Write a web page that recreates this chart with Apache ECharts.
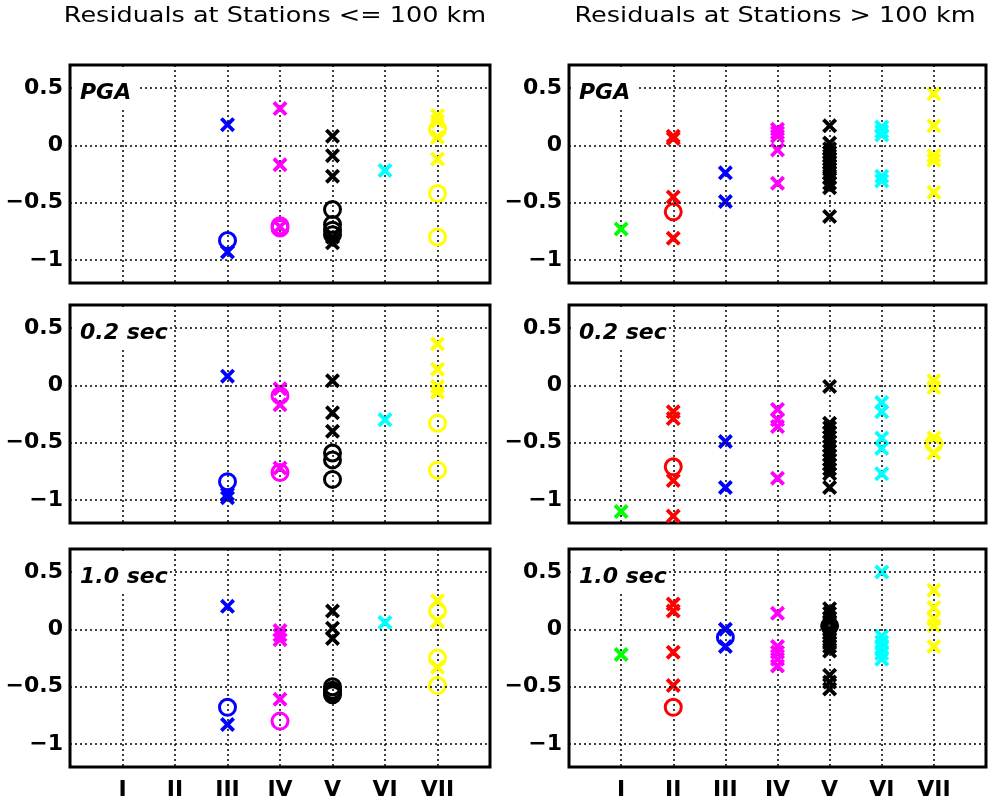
<!DOCTYPE html>
<html>
<head>
<meta charset="utf-8">
<script src="https://cdn.jsdelivr.net/npm/echarts@6/dist/echarts.min.js"></script>
<style>
  html, body { margin: 0; padding: 0; background: #fff; }
  #chart { width: 988px; height: 805px; }
</style>
</head>
<body>
<div id="chart"></div>
<script>
// site classes and the colour used for each one
const classes = ['I', 'II', 'III', 'IV', 'V', 'VI', 'VII'];
const classColors = ['#00ff00', '#ff0000', '#0000ff', '#ff00ff', '#000000', '#00ffff', '#ffff00'];
const yTicks = [-1, -0.5, 0, 0.5];

// residuals, one list per class I..VII (x = cross marker, o = circle marker)
// stations <= 100 km
const nearPgaX = [[], [], [0.18, -0.93], [0.32, -0.17, -0.71], [0.08, -0.09, -0.27, -0.80, -0.85], [-0.22], [0.26, 0.21, 0.07, -0.12]];
const nearPgaO = [[], [], [-0.83], [-0.70, -0.72], [-0.56, -0.69, -0.74, -0.78], [], [0.14, -0.42, -0.80]];
const near02X = [[], [], [0.08, -0.95, -0.98], [-0.03, -0.17, -0.72], [0.04, -0.24, -0.40], [-0.30], [0.36, 0.14, -0.01, -0.06]];
const near02O = [[], [], [-0.84], [-0.09, -0.76], [-0.59, -0.65, -0.82], [], [-0.33, -0.74]];
const near10X = [[], [], [0.20, -0.83], [-0.01, -0.05, -0.09, -0.61], [0.16, 0.01, -0.08], [0.06], [0.25, 0.07, -0.33]];
const near10O = [[], [], [-0.68], [-0.80], [-0.50, -0.53, -0.55, -0.57], [], [0.16, -0.25, -0.49]];

// stations > 100 km
const farPgaX = [[-0.73], [0.08, 0.06, -0.45, -0.81], [-0.24, -0.49], [0.14, 0.11, 0.08, -0.04, -0.33],
  [0.17, 0.02, -0.03, -0.06, -0.09, -0.12, -0.15, -0.18, -0.21, -0.24, -0.28, -0.33, -0.37, -0.62],
  [0.16, 0.12, 0.09, -0.27, -0.31], [0.45, 0.17, -0.09, -0.13, -0.41]];
const farPgaO = [[], [-0.58], [], [], [], [], []];
const far02X = [[-1.10], [-0.23, -0.29, -0.83, -1.14], [-0.49, -0.89], [-0.21, -0.30, -0.36, -0.81],
  [-0.01, -0.33, -0.37, -0.41, -0.45, -0.49, -0.53, -0.57, -0.61, -0.65, -0.69, -0.73, -0.77, -0.89],
  [-0.15, -0.23, -0.46, -0.55, -0.77], [0.04, -0.02, -0.46, -0.59]];
const far02O = [[], [-0.71], [], [], [], [], [-0.51]];
const far10X = [[-0.22], [0.22, 0.16, -0.20, -0.49], [0.00, -0.15], [0.14, -0.15, -0.20, -0.26, -0.32],
  [0.18, 0.14, 0.10, 0.07, 0.00, -0.03, -0.06, -0.09, -0.12, -0.15, -0.19, -0.40, -0.46, -0.52],
  [0.50, -0.06, -0.11, -0.16, -0.21, -0.26], [0.34, 0.19, 0.09, 0.03, -0.15]];
const far10O = [[], [-0.68], [-0.07], [], [0.03], [], []];

const titles = ['Residuals at Stations <= 100 km', 'Residuals at Stations > 100 km'];

const panels = [
    { label: 'PGA',     x: nearPgaX, o: nearPgaO, col: 0, row: 0 },
    { label: 'PGA',     x: farPgaX,  o: farPgaO,  col: 1, row: 0 },
    { label: '0.2 sec', x: near02X,  o: near02O,  col: 0, row: 1 },
    { label: '0.2 sec', x: far02X,   o: far02O,   col: 1, row: 1 },
    { label: '1.0 sec', x: near10X,  o: near10O,  col: 0, row: 2 },
    { label: '1.0 sec', x: far10X,   o: far10O,   col: 1, row: 2 }
];

const colLeft = [70, 569];
const colWidth = [420, 417];
const rowTop = [65, 305, 549];
const plotH = 218;
const FONT = 'DejaVu Sans';
const CROSS = 'path://M0,1.8L1.8,0L5,3.2L8.2,0L10,1.8L6.8,5L10,8.2L8.2,10L5,6.8L1.8,10L0,8.2L3.2,5Z';
const dotted = { type: [2, 3], color: '#000', width: 1.5 };

function fmtY(v) {
    return v < 0 ? '\u2212' + Math.abs(v) : String(v);
}

function crossData(lists) {
    const out = [];
    lists.forEach((vals, k) => vals.forEach(v => out.push({
        value: [k + 1, v],
        itemStyle: { color: classColors[k] }
    })));
    return out;
}

function circleData(lists) {
    const out = [];
    lists.forEach((vals, k) => vals.forEach(v => out.push({
        value: [k + 1, v],
        itemStyle: { color: 'rgba(0,0,0,0)', borderColor: classColors[k], borderWidth: 3 }
    })));
    return out;
}

const grid = [], xAxis = [], yAxis = [], series = [], graphic = [];

panels.forEach((p, i) => {
    const left = colLeft[p.col];
    const top = rowTop[p.row];
    grid.push({
        left: left, top: top, width: colWidth[p.col], height: plotH,
        show: true, borderColor: '#000', borderWidth: 3, backgroundColor: '#fff',
        containLabel: false, outerBoundsMode: 'none'
    });
    xAxis.push({
        gridIndex: i, type: 'value', min: 0, max: 8, interval: 1,
        axisLine: { show: false }, axisTick: { show: false },
        splitLine: { show: true, lineStyle: dotted },
        axisLabel: {
            show: p.row === 2, margin: 12, color: '#000',
            fontFamily: FONT, fontWeight: 'bold', fontSize: 22,
            formatter: v => classes[v - 1] || ''
        }
    });
    yAxis.push({
        gridIndex: i, type: 'value', min: -1.2, max: 0.7,
        axisLine: { show: false }, axisTick: { show: false },
        splitLine: { show: false },
        axisLabel: {
            customValues: yTicks, margin: 7, color: '#000',
            fontFamily: FONT, fontWeight: 'bold', fontSize: 22,
            formatter: fmtY
        }
    });
    // horizontal dotted grid lines
    series.push({
        type: 'scatter', xAxisIndex: i, yAxisIndex: i, data: [], z: 1, silent: true,
        markLine: {
            silent: true, symbol: 'none', label: { show: false },
            lineStyle: dotted, animation: false,
            data: yTicks.map(v => ({ yAxis: v }))
        }
    });
    series.push({
        type: 'scatter', xAxisIndex: i, yAxisIndex: i, z: 3,
        symbol: 'circle', symbolSize: 16,
        itemStyle: { opacity: 1 },
        data: circleData(p.o)
    });
    series.push({
        type: 'scatter', xAxisIndex: i, yAxisIndex: i, z: 4,
        symbol: CROSS, symbolSize: 15,
        itemStyle: { opacity: 1 },
        data: crossData(p.x)
    });

    // white box behind the panel label, hiding the grid lines
    graphic.push({
        type: 'rect', z: 100,
        shape: { x: left + 2, y: top + 2, width: p.label === 'PGA' ? 68 : 98, height: 41 },
        style: { fill: '#fff' }
    });
    graphic.push({
        type: 'text', z: 101, x: left + 10, y: top + 28,
        style: {
            text: p.label, fill: '#000',
            font: 'italic bold 22px "' + FONT + '"',
            textAlign: 'left', textVerticalAlign: 'middle'
        }
    });
});

titles.forEach((t, c) => {
    graphic.push({
        type: 'text', z: 101, x: [275, 775][c], y: 16, scaleX: 1.16,
        style: {
            text: t, fill: '#000', font: '22px "' + FONT + '"',
            textAlign: 'center', textVerticalAlign: 'middle'
        }
    });
});

const chart = echarts.init(document.getElementById('chart'));
chart.setOption({
    backgroundColor: '#fff',
    animation: false,
    grid: grid,
    xAxis: xAxis,
    yAxis: yAxis,
    series: series,
    graphic: graphic
});
</script>
</body>
</html>
